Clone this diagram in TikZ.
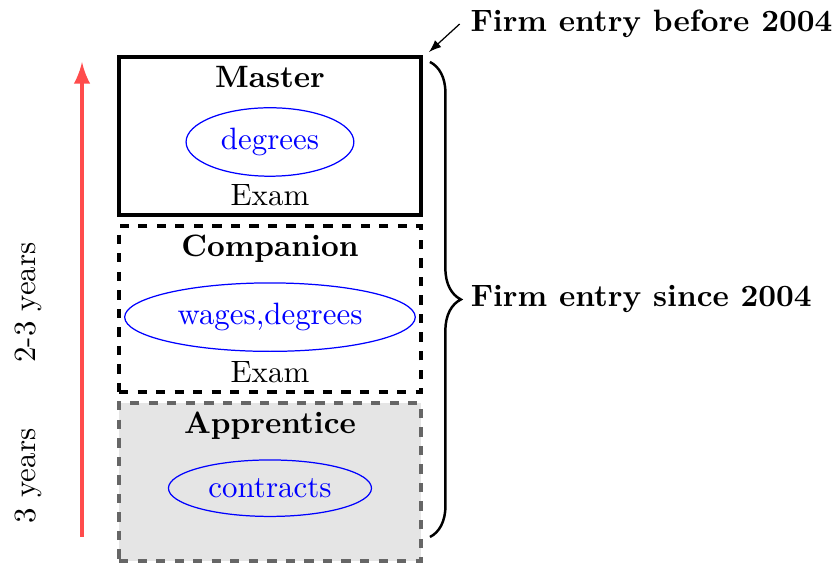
\documentclass[tikz,border=0pt]{standalone}
\usetikzlibrary{arrows,positioning,calc,decorations.pathreplacing,shapes.geometric}
\tikzset{
etape/.style={draw,very thick,minimum width=3.435cm,minimum height=1.797cm},
titre/.style={below,font=\bfseries},
critere/.style={ellipse,draw=blue,text=blue},
duree/.style={-latex,line width=1.4pt,red!70},
accolade/.style={decorate,decoration={brace,amplitude=10pt},thick}
}

\begin{document}
\begin{tikzpicture}
\useasboundingbox (0,0) rectangle (9.51,6.427);
%%% les trois etapes
\node[etape] (master) at (3.071,4.880) {};
\node[etape,dashed,minimum height=1.888cm] (comp) at (3.071,2.912) {};
\node[etape,dashed,draw=black!60,fill=gray!20] (appr) at (3.071,0.944) {};
%%% titres, criteres, examens
\node[titre] (tmaster) at (master.north) {Master};
\node[critere,below=1mm of tmaster] (cmaster) {degrees};
\node[above] (emaster) at (master.south) {Exam};
\node[titre] (tcomp) at (comp.north) {Companion};
\node[critere,below=1mm of tcomp] (ccomp) {wages,degrees};
\node[above] (ecomp) at (comp.south) {Exam};
\node[titre] (tappr) at (appr.north) {Apprentice};
\node[critere,below=1mm of tappr] (cappr) {contracts};
%%% duree
\coordinate (bas) at (0.933,0.3185);
\coordinate (haut) at (0.933,5.722);
\draw[duree] (bas) -- (haut);
\node[rotate=90] (d23) at (0.3185,2.986) {2-3 years};
\node[rotate=90] (d3) at (0.3185,1.012) {3 years};
%%% entree des firmes
\coordinate (acc0) at (4.891,5.722);
\coordinate (acc1) at (4.891,0.3185);
\draw[accolade] (acc0) -- (acc1);
\node[right,font=\bfseries] (since) at ($(acc0)!0.5!(acc1)+(0.34,0)$) {Firm entry since 2004};
\node[right,font=\bfseries] (before) at (5.229,6.154) {Firm entry before 2004};
\coordinate (coin) at (4.88,5.835);
\draw[-latex] (before.west) -- (coin);
\end{tikzpicture}
\end{document}
